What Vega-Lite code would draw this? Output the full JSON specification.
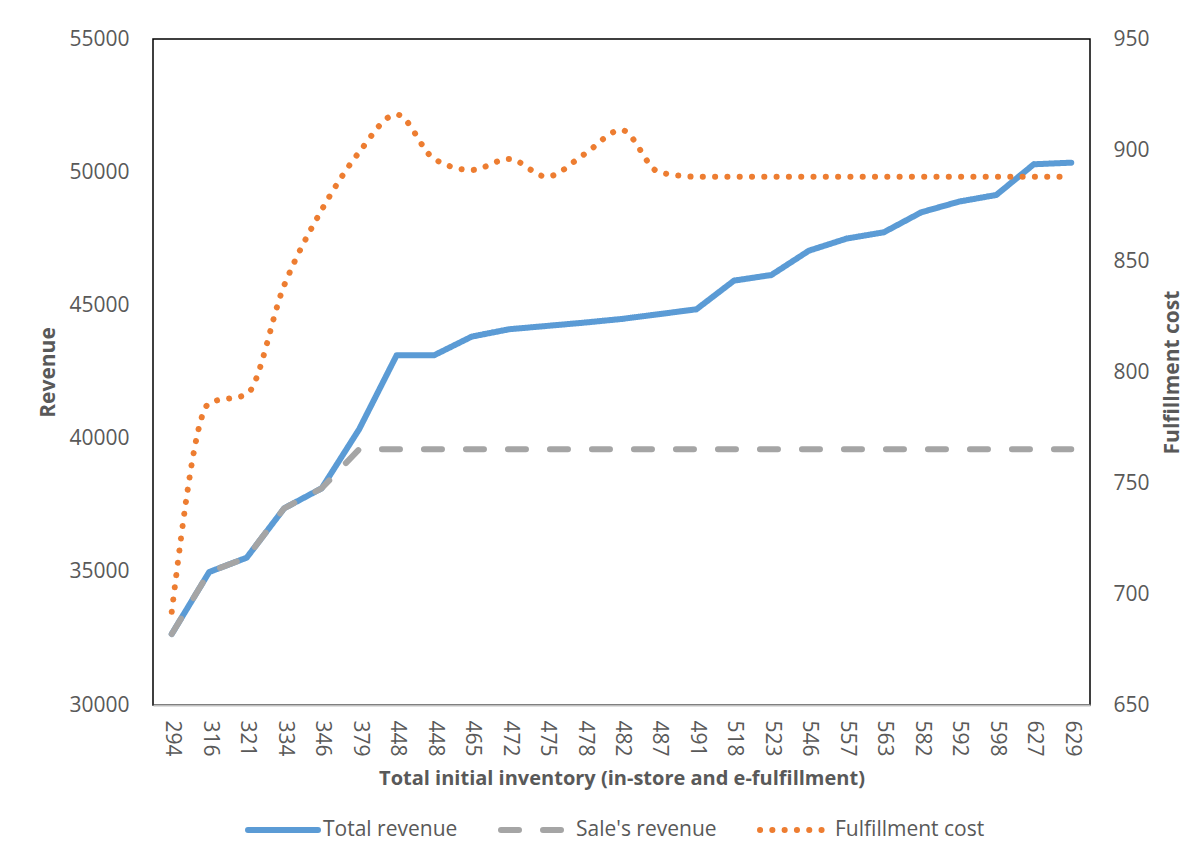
{
  "$schema": "https://vega.github.io/schema/vega-lite/v6.json",
  "width": 937,
  "height": 666,
  "autosize": {"type": "none"},
  "padding": {"left": 153, "top": 39, "right": 102, "bottom": 156},
  "background": "white",
  "config": {
    "font": "Open Sans",
    "view": {"stroke": "#000000", "strokeWidth": 1.5},
    "axis": {
      "labelFont": "Open Sans", "labelColor": "#595959", "labelFontSize": 21,
      "titleFont": "Open Sans", "titleColor": "#595959", "titleFontSize": 21, "titleFontWeight": "bold",
      "grid": false, "ticks": false
    },
    "legend": {
      "labelFont": "Open Sans", "labelColor": "#595959", "labelFontSize": 21
    }
  },
  "datasets": {
    "rows": [
      {"idx": 0, "inv": 294, "series": "Total revenue", "value": 32665},
      {"idx": 1, "inv": 316, "series": "Total revenue", "value": 34993},
      {"idx": 2, "inv": 321, "series": "Total revenue", "value": 35530},
      {"idx": 3, "inv": 334, "series": "Total revenue", "value": 37384},
      {"idx": 4, "inv": 346, "series": "Total revenue", "value": 38135},
      {"idx": 5, "inv": 379, "series": "Total revenue", "value": 40350},
      {"idx": 6, "inv": 448, "series": "Total revenue", "value": 43128},
      {"idx": 7, "inv": 448, "series": "Total revenue", "value": 43128},
      {"idx": 8, "inv": 465, "series": "Total revenue", "value": 43826},
      {"idx": 9, "inv": 472, "series": "Total revenue", "value": 44104},
      {"idx": 10, "inv": 475, "series": "Total revenue", "value": 44228},
      {"idx": 11, "inv": 478, "series": "Total revenue", "value": 44352},
      {"idx": 12, "inv": 482, "series": "Total revenue", "value": 44490},
      {"idx": 13, "inv": 487, "series": "Total revenue", "value": 44670},
      {"idx": 14, "inv": 491, "series": "Total revenue", "value": 44855},
      {"idx": 15, "inv": 518, "series": "Total revenue", "value": 45928},
      {"idx": 16, "inv": 523, "series": "Total revenue", "value": 46142},
      {"idx": 17, "inv": 546, "series": "Total revenue", "value": 47054},
      {"idx": 18, "inv": 557, "series": "Total revenue", "value": 47505},
      {"idx": 19, "inv": 563, "series": "Total revenue", "value": 47745},
      {"idx": 20, "inv": 582, "series": "Total revenue", "value": 48496},
      {"idx": 21, "inv": 592, "series": "Total revenue", "value": 48894},
      {"idx": 22, "inv": 598, "series": "Total revenue", "value": 49145},
      {"idx": 23, "inv": 627, "series": "Total revenue", "value": 50298},
      {"idx": 24, "inv": 629, "series": "Total revenue", "value": 50358},
      {"idx": 0, "inv": 294, "series": "Sale's revenue", "value": 32665},
      {"idx": 1, "inv": 316, "series": "Sale's revenue", "value": 34993},
      {"idx": 2, "inv": 321, "series": "Sale's revenue", "value": 35530},
      {"idx": 3, "inv": 334, "series": "Sale's revenue", "value": 37384},
      {"idx": 4, "inv": 346, "series": "Sale's revenue", "value": 38135},
      {"idx": 5, "inv": 379, "series": "Sale's revenue", "value": 39600},
      {"idx": 6, "inv": 448, "series": "Sale's revenue", "value": 39600},
      {"idx": 7, "inv": 448, "series": "Sale's revenue", "value": 39600},
      {"idx": 8, "inv": 465, "series": "Sale's revenue", "value": 39600},
      {"idx": 9, "inv": 472, "series": "Sale's revenue", "value": 39600},
      {"idx": 10, "inv": 475, "series": "Sale's revenue", "value": 39600},
      {"idx": 11, "inv": 478, "series": "Sale's revenue", "value": 39600},
      {"idx": 12, "inv": 482, "series": "Sale's revenue", "value": 39600},
      {"idx": 13, "inv": 487, "series": "Sale's revenue", "value": 39600},
      {"idx": 14, "inv": 491, "series": "Sale's revenue", "value": 39600},
      {"idx": 15, "inv": 518, "series": "Sale's revenue", "value": 39600},
      {"idx": 16, "inv": 523, "series": "Sale's revenue", "value": 39600},
      {"idx": 17, "inv": 546, "series": "Sale's revenue", "value": 39600},
      {"idx": 18, "inv": 557, "series": "Sale's revenue", "value": 39600},
      {"idx": 19, "inv": 563, "series": "Sale's revenue", "value": 39600},
      {"idx": 20, "inv": 582, "series": "Sale's revenue", "value": 39600},
      {"idx": 21, "inv": 592, "series": "Sale's revenue", "value": 39600},
      {"idx": 22, "inv": 598, "series": "Sale's revenue", "value": 39600},
      {"idx": 23, "inv": 627, "series": "Sale's revenue", "value": 39600},
      {"idx": 24, "inv": 629, "series": "Sale's revenue", "value": 39600},
      {"idx": 0, "inv": 294, "series": "Fulfillment cost", "value": 692},
      {"idx": 1, "inv": 316, "series": "Fulfillment cost", "value": 786},
      {"idx": 2, "inv": 321, "series": "Fulfillment cost", "value": 790},
      {"idx": 3, "inv": 334, "series": "Fulfillment cost", "value": 839},
      {"idx": 4, "inv": 346, "series": "Fulfillment cost", "value": 873},
      {"idx": 5, "inv": 379, "series": "Fulfillment cost", "value": 899},
      {"idx": 6, "inv": 448, "series": "Fulfillment cost", "value": 916},
      {"idx": 7, "inv": 448, "series": "Fulfillment cost", "value": 896},
      {"idx": 8, "inv": 465, "series": "Fulfillment cost", "value": 891},
      {"idx": 9, "inv": 472, "series": "Fulfillment cost", "value": 896},
      {"idx": 10, "inv": 475, "series": "Fulfillment cost", "value": 888},
      {"idx": 11, "inv": 478, "series": "Fulfillment cost", "value": 898},
      {"idx": 12, "inv": 482, "series": "Fulfillment cost", "value": 909},
      {"idx": 13, "inv": 487, "series": "Fulfillment cost", "value": 890},
      {"idx": 14, "inv": 491, "series": "Fulfillment cost", "value": 888},
      {"idx": 15, "inv": 518, "series": "Fulfillment cost", "value": 888},
      {"idx": 16, "inv": 523, "series": "Fulfillment cost", "value": 888},
      {"idx": 17, "inv": 546, "series": "Fulfillment cost", "value": 888},
      {"idx": 18, "inv": 557, "series": "Fulfillment cost", "value": 888},
      {"idx": 19, "inv": 563, "series": "Fulfillment cost", "value": 888},
      {"idx": 20, "inv": 582, "series": "Fulfillment cost", "value": 888},
      {"idx": 21, "inv": 592, "series": "Fulfillment cost", "value": 888},
      {"idx": 22, "inv": 598, "series": "Fulfillment cost", "value": 888},
      {"idx": 23, "inv": 627, "series": "Fulfillment cost", "value": 888},
      {"idx": 24, "inv": 629, "series": "Fulfillment cost", "value": 888}
    ]
  },
  "data": {"name": "rows"},
  "encoding": {
    "x": {
      "field": "idx", "type": "ordinal",
      "scale": {"type": "point", "padding": 0.5},
      "axis": {
        "title": "Total initial inventory (in-store and e-fulfillment)",
        "labelExpr": "data('rows')[datum.value].inv",
        "labelAngle": 90, "labelPadding": 15, "titlePadding": 12, "titleFontSize": 20,
        "domain": true, "domainColor": "#BFBFBF", "domainWidth": 2,
        "labelOverlap": false
      }
    },
    "color": {
      "field": "series", "type": "nominal",
      "scale": {"domain": ["Total revenue", "Sale's revenue", "Fulfillment cost"], "range": ["#5B9BD5", "#A5A5A5", "#ED7D31"]},
      "legend": {
        "title": null, "orient": "none", "direction": "horizontal",
        "legendX": 92, "legendY": 753, "padding": 0,
        "symbolType": "stroke", "symbolSize": 4900, "symbolStrokeWidth": 6,
        "labelOffset": 2, "columnPadding": 31,
        "encode": {"symbols": {"update": {"strokeCap": {"value": "round"}}}}
      }
    },
    "strokeDash": {
      "field": "series", "type": "nominal",
      "scale": {"domain": ["Total revenue", "Sale's revenue", "Fulfillment cost"], "range": [[1, 0], [18, 24], [0.1, 12.2]]},
      "legend": {
        "title": null, "orient": "none", "direction": "horizontal",
        "legendX": 92, "legendY": 753, "padding": 0,
        "symbolType": "stroke", "symbolSize": 4900, "symbolStrokeWidth": 6,
        "labelOffset": 2, "columnPadding": 31,
        "encode": {"symbols": {"update": {"strokeCap": {"value": "round"}}}}
      }
    }
  },
  "layer": [
    {
      "transform": [{"filter": {"field": "series", "oneOf": ["Total revenue", "Sale's revenue"]}}],
      "mark": {"type": "line", "strokeWidth": 6, "strokeCap": "round", "strokeJoin": "round"},
      "encoding": {
        "y": {
          "field": "value", "type": "quantitative",
          "scale": {"domain": [30000, 55000], "nice": false, "zero": false},
          "axis": {
            "title": "Revenue", "orient": "left", "values": [30000, 35000, 40000, 45000, 50000, 55000],
            "format": "d", "domain": false, "labelPadding": 24, "titlePadding": 10
          }
        }
      }
    },
    {
      "transform": [{"filter": {"field": "series", "equal": "Fulfillment cost"}}],
      "mark": {"type": "line", "strokeWidth": 6, "strokeCap": "round", "strokeJoin": "round", "interpolate": "monotone"},
      "encoding": {
        "y": {
          "field": "value", "type": "quantitative",
          "scale": {"domain": [650, 950], "nice": false, "zero": false},
          "axis": {
            "title": "Fulfillment cost", "orient": "right", "values": [650, 700, 750, 800, 850, 900, 950],
            "format": "d", "domain": false, "labelPadding": 23, "titlePadding": 12,
            "titleAngle": 270, "titleBaseline": "top"
          }
        }
      }
    }
  ],
  "resolve": {"scale": {"y": "independent"}}
}
